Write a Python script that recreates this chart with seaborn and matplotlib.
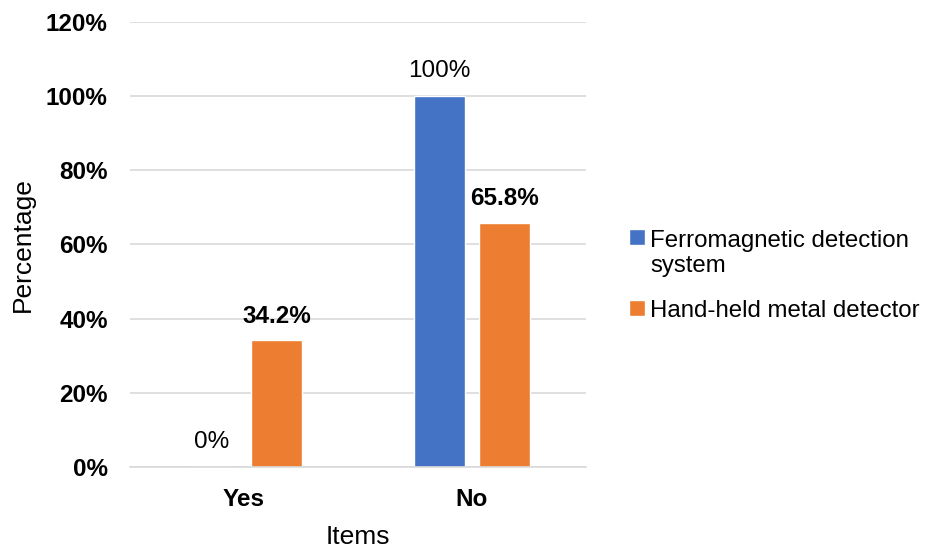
import matplotlib
matplotlib.use("Agg")
import matplotlib.pyplot as plt
import seaborn as sns
import pandas as pd
from matplotlib.ticker import FuncFormatter, FixedLocator

categories = ["Yes", "No"]
series_names = ["Ferromagnetic detection\nsystem", "Hand-held metal detector"]
ferro_values = [0, 100]
handheld_values = [34.2, 65.8]
ferro_labels = ["0%", "100%"]
handheld_labels = ["34.2%", "65.8%"]
colors = ["#4472C4", "#ED7D31"]

df = pd.DataFrame({
    "Items": categories * 2,
    "Percentage": ferro_values + handheld_values,
    "Series": [series_names[0]] * 2 + [series_names[1]] * 2,
})

sns.set_theme(style="white")
plt.rcParams["font.family"] = ["Liberation Sans", "DejaVu Sans"]
for k in ["text.color", "axes.labelcolor", "xtick.labelcolor", "ytick.labelcolor"]:
    plt.rcParams[k] = "black"

fig = plt.figure(figsize=(9.26, 5.48), dpi=100)
ax = fig.add_axes([0.1404, 0.1478, 0.6328 - 0.1404, 0.9599 - 0.1478])

sns.barplot(data=df, x="Items", y="Percentage", hue="Series", hue_order=series_names,
            order=categories, palette=colors, width=0.57, gap=0.21, ax=ax,
            saturation=1, legend=True)

ax.set_ylim(0, 120)
ax.set_xlim(-0.5, 1.5)
ax.yaxis.set_major_locator(FixedLocator([0, 20, 40, 60, 80, 100, 120]))
ax.yaxis.set_major_formatter(FuncFormatter(lambda v, p: f"{int(v)}%"))
ax.grid(axis="y", color="#D9D9D9", linewidth=1.2)
ax.set_axisbelow(True)
for s in ["left", "right", "top"]:
    ax.spines[s].set_visible(False)
ax.spines["bottom"].set_color("#D9D9D9")
ax.spines["bottom"].set_linewidth(1.2)

ax.tick_params(axis="y", length=0, labelsize=17.5, pad=16)
ax.tick_params(axis="x", which="major", length=0, labelsize=17.5, pad=15)
ax.set_xticks([-0.5, 0.5, 1.5], minor=True)
ax.tick_params(axis="x", which="minor", length=6, color="#D9D9D9", width=1.2)
for lab in ax.get_yticklabels() + ax.get_xticklabels():
    lab.set_fontweight("bold")

ax.set_xlabel("Items", fontsize=19, labelpad=10)
ax.set_ylabel("Percentage", fontsize=19, labelpad=8)

containers = ax.containers
ax.bar_label(containers[0], labels=ferro_labels, padding=10, fontsize=17.5)
ax.bar_label(containers[1], labels=handheld_labels, padding=9, fontsize=17.5, fontweight="bold")

leg = ax.legend(loc="center left", bbox_to_anchor=(0.656, 0.497), bbox_transform=fig.transFigure,
                frameon=False, fontsize=17.3, handlelength=0.65, handleheight=0.65,
                handletextpad=0.22, labelspacing=0.95)
for t in leg.get_texts():
    t.set_linespacing(1.2)
h0 = leg.legend_handles[0]
h0.set_y(h0.get_y() + 11.5)

fig.savefig("out.png", dpi=100)
